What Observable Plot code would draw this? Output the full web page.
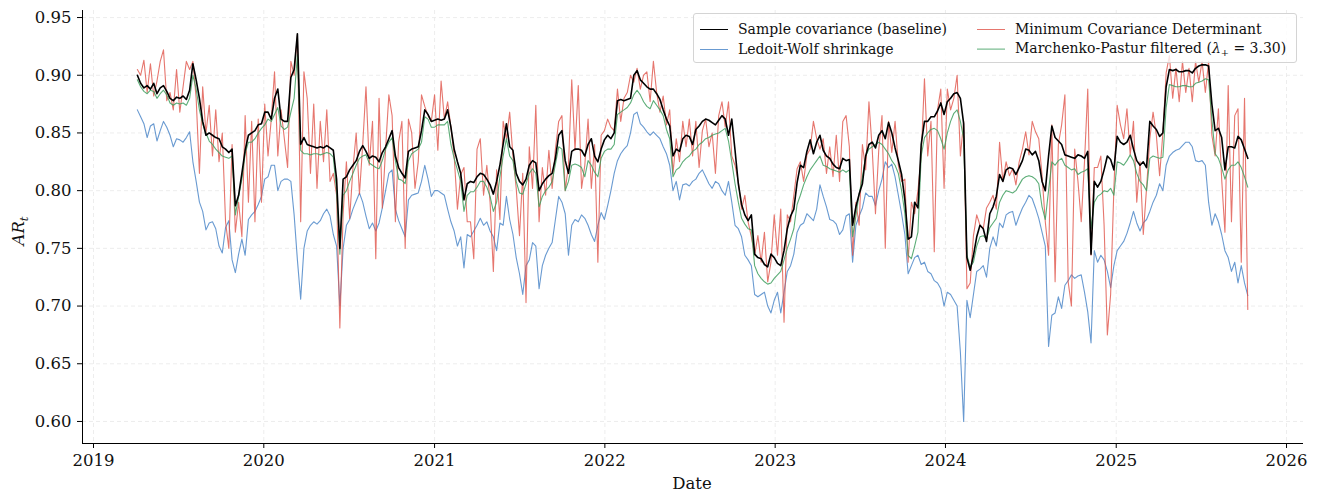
<!DOCTYPE html>
<html>
<head>
<meta charset="utf-8">
<script src="https://cdn.jsdelivr.net/npm/d3@7"></script>
<script src="https://cdn.jsdelivr.net/npm/@observablehq/plot@0.6"></script>
<style>
  body { margin: 0; background: #fff; }
  #chart { position: relative; width: 1321px; height: 499px; font-family: "DejaVu Serif", serif; color: #111; }
  #chart svg { position: absolute; left: 0; top: 0; }
  .legend { position: absolute; left: 693px; top: 13px; width: 604px; height: 50px; box-sizing: border-box;
            border: 1px solid #d4d4d4; border-radius: 3px; background: rgba(255,255,255,0.8); font-size: 14px; }
  .item { position: absolute; display: flex; align-items: center; white-space: nowrap; transform: translateY(-50%); }
  .swatch { width: 28px; margin-right: 10px; }
  .ylabel { position: absolute; left: 20px; top: 231px; transform: translate(-50%, -50%) rotate(-90deg); font-size: 16.5px; white-space: nowrap; }
  .xlabel { position: absolute; left: 692px; top: 483px; transform: translate(-50%, -50%); font-size: 16.5px; }
  sub { font-size: 70%; }
</style>
</head>
<body>
<div id="chart"></div>
<script>
// Weekly AR_t readings, first observation on 2019-04-05.
const firstDate = "2019-04-05";

const sampleCov = [
0.900,0.893,0.889,0.891,0.888,0.893,0.884,0.889,0.891,0.886,
0.880,0.878,0.881,0.880,0.882,0.879,0.887,0.910,0.896,0.880,
0.860,0.848,0.850,0.848,0.846,0.845,0.838,0.836,0.833,0.836,
0.787,0.796,0.815,0.835,0.848,0.850,0.852,0.857,0.858,0.868,
0.868,0.862,0.880,0.888,0.862,0.860,0.860,0.898,0.905,0.936,
0.840,0.846,0.840,0.839,0.838,0.837,0.838,0.837,0.839,0.837,
0.835,0.810,0.750,0.810,0.812,0.818,0.822,0.826,0.834,0.839,
0.834,0.828,0.830,0.829,0.825,0.833,0.838,0.845,0.852,0.830,
0.820,0.815,0.811,0.834,0.836,0.837,0.838,0.852,0.870,0.866,
0.860,0.861,0.862,0.861,0.862,0.870,0.855,0.836,0.825,0.815,
0.792,0.806,0.808,0.807,0.812,0.815,0.814,0.810,0.805,0.797,
0.808,0.822,0.840,0.858,0.838,0.835,0.815,0.808,0.805,0.810,
0.822,0.826,0.824,0.800,0.806,0.810,0.813,0.815,0.828,0.848,
0.852,0.826,0.815,0.834,0.836,0.836,0.835,0.830,0.840,0.845,
0.830,0.825,0.836,0.844,0.848,0.845,0.850,0.878,0.879,0.878,
0.879,0.880,0.900,0.904,0.896,0.893,0.890,0.888,0.888,0.884,
0.879,0.870,0.862,0.856,0.830,0.836,0.834,0.845,0.848,0.847,
0.840,0.853,0.856,0.860,0.862,0.861,0.859,0.857,0.861,0.865,
0.862,0.848,0.862,0.835,0.806,0.788,0.779,0.774,0.779,0.745,
0.742,0.741,0.736,0.734,0.745,0.742,0.737,0.735,0.748,0.767,
0.778,0.784,0.807,0.822,0.820,0.834,0.844,0.832,0.842,0.848,
0.835,0.830,0.828,0.823,0.820,0.819,0.828,0.826,0.827,0.770,
0.786,0.797,0.806,0.830,0.840,0.842,0.837,0.848,0.852,0.845,
0.859,0.850,0.837,0.826,0.814,0.792,0.758,0.760,0.790,0.785,
0.840,0.860,0.860,0.864,0.864,0.869,0.876,0.866,0.877,0.880,
0.884,0.885,0.880,0.858,0.742,0.731,0.744,0.760,0.770,0.767,
0.756,0.780,0.786,0.795,0.814,0.808,0.818,0.820,0.819,0.814,
0.820,0.826,0.836,0.835,0.831,0.834,0.826,0.808,0.800,0.830,
0.856,0.846,0.843,0.840,0.831,0.830,0.829,0.828,0.831,0.830,
0.828,0.834,0.745,0.808,0.803,0.808,0.818,0.830,0.827,0.818,
0.847,0.842,0.840,0.842,0.848,0.836,0.826,0.822,0.825,0.820,
0.860,0.856,0.853,0.847,0.850,0.890,0.905,0.904,0.905,0.903,
0.903,0.904,0.904,0.902,0.906,0.908,0.909,0.909,0.908,0.875,
0.852,0.854,0.846,0.818,0.838,0.838,0.837,0.847,0.844,0.836,0.828
];

const ledoitWolf = [
0.870,0.864,0.858,0.846,0.856,0.858,0.843,0.852,0.860,0.855,
0.848,0.838,0.845,0.844,0.842,0.846,0.851,0.825,0.808,0.790,
0.782,0.766,0.772,0.773,0.767,0.752,0.746,0.768,0.774,0.740,
0.729,0.745,0.758,0.744,0.775,0.779,0.782,0.788,0.795,0.810,
0.812,0.822,0.822,0.800,0.808,0.810,0.810,0.808,0.779,0.740,
0.706,0.750,0.765,0.770,0.773,0.771,0.774,0.780,0.784,0.778,
0.762,0.752,0.700,0.750,0.770,0.775,0.784,0.791,0.798,0.790,
0.778,0.767,0.772,0.765,0.772,0.785,0.800,0.815,0.818,0.784,
0.774,0.767,0.760,0.792,0.796,0.797,0.798,0.808,0.822,0.810,
0.795,0.800,0.800,0.798,0.796,0.784,0.773,0.765,0.752,0.760,
0.733,0.762,0.760,0.765,0.770,0.776,0.770,0.773,0.765,0.760,
0.748,0.772,0.770,0.795,0.775,0.762,0.742,0.728,0.710,0.735,
0.740,0.755,0.752,0.715,0.735,0.744,0.750,0.755,0.775,0.795,
0.790,0.780,0.744,0.770,0.775,0.773,0.779,0.776,0.770,0.762,
0.756,0.770,0.781,0.775,0.787,0.800,0.815,0.826,0.832,0.836,
0.839,0.850,0.866,0.868,0.858,0.855,0.851,0.848,0.851,0.848,
0.845,0.838,0.832,0.822,0.800,0.808,0.792,0.805,0.806,0.804,
0.808,0.810,0.815,0.818,0.812,0.806,0.802,0.808,0.806,0.800,
0.796,0.808,0.790,0.770,0.767,0.760,0.744,0.740,0.735,0.710,
0.708,0.710,0.712,0.700,0.694,0.705,0.712,0.694,0.712,0.730,
0.735,0.745,0.764,0.770,0.772,0.780,0.777,0.774,0.784,0.805,
0.795,0.786,0.775,0.774,0.771,0.762,0.766,0.778,0.780,0.738,
0.770,0.778,0.785,0.798,0.795,0.795,0.787,0.800,0.810,0.825,
0.820,0.823,0.812,0.796,0.780,0.762,0.728,0.735,0.742,0.744,
0.736,0.738,0.730,0.728,0.722,0.720,0.715,0.700,0.712,0.710,
0.705,0.700,0.660,0.600,0.705,0.690,0.710,0.730,0.732,0.735,
0.725,0.750,0.760,0.752,0.772,0.768,0.779,0.781,0.782,0.770,
0.778,0.785,0.790,0.796,0.793,0.785,0.776,0.764,0.752,0.665,
0.692,0.694,0.708,0.698,0.718,0.722,0.727,0.724,0.726,0.727,
0.712,0.695,0.668,0.748,0.738,0.744,0.740,0.730,0.716,0.735,
0.748,0.752,0.756,0.763,0.772,0.782,0.772,0.765,0.772,0.775,
0.782,0.790,0.796,0.806,0.800,0.822,0.830,0.833,0.835,0.836,
0.839,0.842,0.842,0.838,0.826,0.825,0.826,0.822,0.790,0.770,
0.780,0.773,0.762,0.748,0.742,0.730,0.738,0.720,0.735,0.720,0.709
];

const mcd = [
0.905,0.900,0.913,0.885,0.910,0.882,0.895,0.912,0.922,0.878,
0.885,0.870,0.905,0.868,0.890,0.912,0.905,0.912,0.880,0.815,
0.890,0.850,0.874,0.830,0.870,0.825,0.850,0.773,0.750,0.840,
0.764,0.790,0.760,0.865,0.790,0.860,0.773,0.862,0.790,0.875,
0.830,0.862,0.903,0.830,0.870,0.845,0.820,0.912,0.900,0.935,
0.773,0.903,0.880,0.815,0.875,0.802,0.860,0.825,0.870,0.808,
0.815,0.796,0.681,0.780,0.825,0.776,0.819,0.850,0.797,0.840,
0.890,0.822,0.860,0.741,0.880,0.785,0.836,0.883,0.865,0.773,
0.842,0.860,0.750,0.862,0.850,0.802,0.825,0.883,0.873,0.865,
0.860,0.883,0.835,0.895,0.862,0.877,0.855,0.830,0.784,0.814,
0.820,0.773,0.773,0.741,0.836,0.845,0.796,0.822,0.790,0.730,
0.818,0.775,0.860,0.845,0.868,0.830,0.802,0.761,0.815,0.703,
0.838,0.802,0.874,0.773,0.820,0.796,0.835,0.802,0.836,0.860,
0.865,0.800,0.822,0.896,0.835,0.891,0.802,0.822,0.862,0.802,
0.840,0.738,0.848,0.852,0.862,0.855,0.852,0.888,0.860,0.880,
0.885,0.900,0.894,0.906,0.888,0.900,0.903,0.877,0.912,0.885,
0.868,0.882,0.857,0.870,0.815,0.845,0.825,0.860,0.838,0.862,
0.830,0.860,0.820,0.852,0.862,0.838,0.850,0.815,0.865,0.877,
0.855,0.877,0.830,0.822,0.808,0.784,0.796,0.773,0.760,0.744,
0.761,0.738,0.764,0.721,0.738,0.779,0.744,0.784,0.686,0.779,
0.773,0.796,0.819,0.825,0.808,0.831,0.836,0.860,0.845,0.836,
0.845,0.815,0.838,0.812,0.848,0.808,0.860,0.865,0.838,0.744,
0.790,0.770,0.840,0.818,0.877,0.836,0.780,0.835,0.865,0.750,
0.860,0.833,0.860,0.822,0.808,0.810,0.738,0.790,0.780,0.800,
0.830,0.897,0.830,0.860,0.747,0.870,0.888,0.802,0.888,0.870,
0.880,0.900,0.830,0.860,0.715,0.720,0.761,0.779,0.770,0.767,
0.785,0.790,0.796,0.784,0.842,0.808,0.825,0.813,0.819,0.805,
0.825,0.836,0.851,0.831,0.860,0.851,0.845,0.813,0.773,0.744,
0.857,0.721,0.840,0.857,0.883,0.721,0.700,0.836,0.808,0.773,
0.825,0.888,0.744,0.820,0.820,0.830,0.770,0.675,0.710,0.802,
0.874,0.857,0.845,0.871,0.831,0.860,0.790,0.825,0.762,0.802,
0.845,0.868,0.848,0.813,0.850,0.902,0.917,0.880,0.906,0.877,
0.912,0.885,0.906,0.877,0.912,0.894,0.912,0.885,0.912,0.848,
0.830,0.871,0.810,0.764,0.891,0.773,0.865,0.871,0.738,0.880,0.697
];

const marchenkoPastur = [
0.896,0.890,0.886,0.884,0.887,0.886,0.880,0.884,0.887,0.883,
0.876,0.874,0.876,0.875,0.876,0.874,0.880,0.900,0.888,0.870,
0.858,0.850,0.843,0.840,0.836,0.833,0.830,0.829,0.828,0.830,
0.779,0.795,0.810,0.832,0.842,0.842,0.845,0.850,0.854,0.857,
0.862,0.860,0.866,0.872,0.856,0.853,0.855,0.868,0.880,0.918,
0.835,0.832,0.832,0.831,0.832,0.832,0.831,0.832,0.833,0.832,
0.829,0.800,0.745,0.796,0.800,0.808,0.815,0.822,0.828,0.830,
0.831,0.824,0.822,0.820,0.819,0.826,0.836,0.842,0.846,0.826,
0.810,0.809,0.806,0.826,0.832,0.834,0.836,0.842,0.864,0.862,
0.855,0.855,0.857,0.857,0.857,0.860,0.840,0.828,0.818,0.808,
0.782,0.796,0.799,0.799,0.803,0.808,0.808,0.803,0.795,0.782,
0.790,0.812,0.830,0.845,0.830,0.826,0.808,0.798,0.797,0.806,
0.815,0.819,0.815,0.786,0.795,0.800,0.803,0.808,0.823,0.838,
0.836,0.800,0.808,0.822,0.823,0.822,0.820,0.812,0.826,0.822,
0.816,0.812,0.828,0.834,0.836,0.836,0.840,0.866,0.868,0.870,
0.872,0.876,0.883,0.887,0.883,0.877,0.873,0.871,0.878,0.874,
0.870,0.865,0.853,0.845,0.812,0.818,0.820,0.825,0.828,0.830,
0.834,0.836,0.840,0.842,0.845,0.846,0.848,0.849,0.850,0.852,
0.854,0.843,0.825,0.806,0.790,0.776,0.771,0.767,0.766,0.735,
0.728,0.724,0.721,0.719,0.720,0.724,0.727,0.730,0.740,0.750,
0.758,0.767,0.788,0.796,0.805,0.812,0.818,0.822,0.826,0.830,
0.822,0.821,0.819,0.818,0.817,0.816,0.818,0.816,0.818,0.760,
0.778,0.797,0.812,0.830,0.836,0.838,0.840,0.842,0.840,0.836,
0.832,0.826,0.822,0.815,0.800,0.780,0.744,0.741,0.752,0.764,
0.830,0.846,0.850,0.853,0.854,0.852,0.845,0.836,0.850,0.860,
0.867,0.870,0.860,0.845,0.744,0.734,0.738,0.752,0.760,0.761,
0.758,0.768,0.772,0.776,0.790,0.796,0.800,0.799,0.798,0.800,
0.805,0.810,0.812,0.813,0.812,0.810,0.806,0.786,0.775,0.800,
0.825,0.822,0.826,0.828,0.822,0.820,0.818,0.819,0.814,0.816,
0.817,0.819,0.767,0.790,0.795,0.797,0.800,0.799,0.802,0.796,
0.825,0.824,0.822,0.826,0.831,0.826,0.815,0.808,0.805,0.800,
0.828,0.830,0.829,0.828,0.829,0.872,0.892,0.891,0.890,0.890,
0.891,0.891,0.890,0.890,0.893,0.894,0.895,0.897,0.896,0.862,
0.832,0.828,0.820,0.810,0.818,0.822,0.822,0.825,0.820,0.812,0.803
];

const yearTickLabels = [2019, 2020, 2021, 2022, 2023, 2024, 2025, 2026];
const yTickValues = [0.60, 0.65, 0.70, 0.75, 0.80, 0.85, 0.90, 0.95];

const series = [
  { name: "Ledoit-Wolf shrinkage", values: ledoitWolf, color: "#4f88c9", opacity: 0.85, width: 1.1 },
  { name: "Minimum Covariance Determinant", values: mcd, color: "#df4f45", opacity: 0.78, width: 1.1 },
  { name: "Marchenko-Pastur filtered", values: marchenkoPastur, color: "#3f9f5f", opacity: 0.85, width: 1.1 },
  { name: "Sample covariance (baseline)", values: sampleCov, color: "#000000", opacity: 1, width: 1.6 }
];

const start = new Date(firstDate + "T00:00:00Z");
const toRows = s => s.values.map((v, i) => ({ date: d3.utcDay.offset(start, 7 * i), value: v, name: s.name }));

const day = 864e5;
const xDomain = [new Date(Date.UTC(2019, 0, 1) - 23.6 * day), new Date(Date.UTC(2026, 0, 1) + 36.4 * day)];
const yDomain = [0.5809, 0.9561];
const yearDates = yearTickLabels.map(y => new Date(Date.UTC(y, 0, 1)));

const plot = Plot.plot({
  width: 1321,
  height: 499,
  marginLeft: 82,
  marginRight: 18,
  marginTop: 10,
  marginBottom: 56,
  style: { fontFamily: "DejaVu Serif, serif", fontSize: "16.5px", background: "transparent", color: "#111" },
  x: { type: "utc", domain: xDomain },
  y: { domain: yDomain },
  marks: [
    Plot.gridX(yearDates, { stroke: "#ebebeb", strokeOpacity: 1, strokeWidth: 0.9, strokeDasharray: "4,3" }),
    Plot.gridY(yTickValues, { stroke: "#ebebeb", strokeOpacity: 1, strokeWidth: 0.9, strokeDasharray: "4,3" }),
    ...series.map(s => Plot.line(toRows(s), {
      x: "date", y: "value", stroke: s.color, strokeOpacity: s.opacity, strokeWidth: s.width, curve: "linear"
    })),
    Plot.ruleX([xDomain[0]], { stroke: "#000", strokeWidth: 1 }),
    Plot.ruleY([yDomain[0]], { stroke: "#000", strokeWidth: 1 }),
    Plot.axisX(yearDates, { tickFormat: d3.utcFormat("%Y"), tickSize: 5, tickPadding: 6, label: null, stroke: "#000", fill: "#111" }),
    Plot.axisY(yTickValues, { tickFormat: d3.format(".2f"), tickSize: 5, tickPadding: 6, label: null, stroke: "#000", fill: "#111" })
  ]
});

const chart = document.getElementById("chart");
chart.appendChild(plot);

// Axis titles
const yl = document.createElement("div");
yl.className = "ylabel";
yl.innerHTML = "<i>AR</i><sub><i>t</i></sub>";
chart.appendChild(yl);

const xl = document.createElement("div");
xl.className = "xlabel";
xl.textContent = "Date";
chart.appendChild(xl);

// Legend, two columns, drawn over the upper right of the plot
const legendItems = [
  { html: "Sample covariance (baseline)", s: series[3], left: 6, top: 15 },
  { html: "Ledoit-Wolf shrinkage", s: series[0], left: 6, top: 35 },
  { html: "Minimum Covariance Determinant", s: series[1], left: 283, top: 15 },
  { html: "Marchenko-Pastur filtered (<i>λ</i><sub>+</sub> = 3.30)", s: series[2], left: 283, top: 35 }
];
const legend = document.createElement("div");
legend.className = "legend";
for (const it of legendItems) {
  const row = document.createElement("div");
  row.className = "item";
  row.style.left = it.left + "px";
  row.style.top = it.top + "px";
  const sw = document.createElement("span");
  sw.className = "swatch";
  sw.style.borderTop = `${it.s.width}px solid ${it.s.color}`;
  sw.style.opacity = it.s.opacity;
  const label = document.createElement("span");
  label.innerHTML = it.html;
  row.appendChild(sw);
  row.appendChild(label);
  legend.appendChild(row);
}
chart.appendChild(legend);
</script>
</body>
</html>
